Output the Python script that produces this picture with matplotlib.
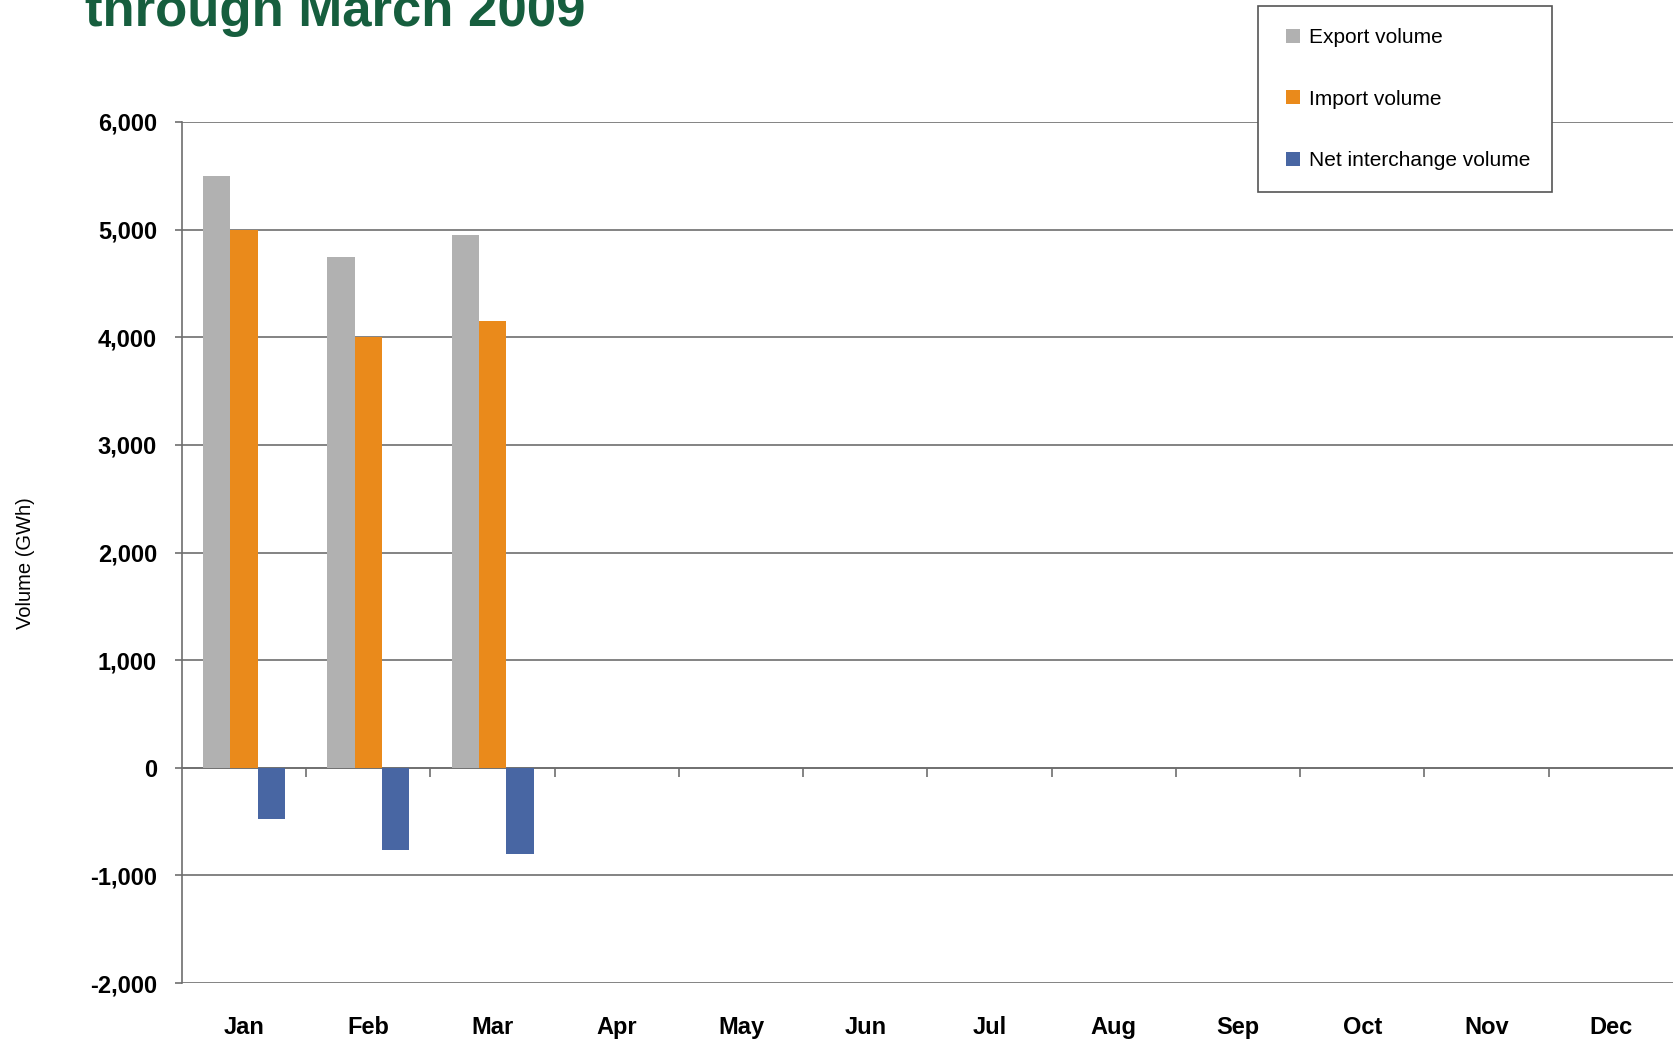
import numpy as np
import matplotlib
matplotlib.use('Agg')
import matplotlib.pyplot as plt
from matplotlib.lines import Line2D
from matplotlib.ticker import FuncFormatter

plt.rcParams['font.family'] = ['Liberation Sans', 'DejaVu Sans']

# data (GWh)
months = ['Jan', 'Feb', 'Mar', 'Apr', 'May', 'Jun', 'Jul', 'Aug', 'Sep', 'Oct', 'Nov', 'Dec']
export_vol = [5500, 4750, 4950]
import_vol = [5000, 4000, 4150]
net_vol = [-480, -760, -800]
series_names = ['Export volume', 'Import volume', 'Net interchange volume']
colors = ['#b1b1b1', '#ea8a1b', '#4866a3']

W, H = 1673, 1042
fig = plt.figure(figsize=(W / 100, H / 100), dpi=100)
fig.patch.set_facecolor('white')

left, right, top, bottom = 182 / W, 1.0, 1 - 122 / H, 1 - 983 / H
ax = fig.add_axes([left, bottom, right - left, top - bottom])

grid_col = '#6e6e6e'
bw = 0.22
x = np.arange(len(export_vol))
ax.bar(x - bw, export_vol, bw, color=colors[0], linewidth=0, zorder=3)
ax.bar(x, import_vol, bw, color=colors[1], linewidth=0, zorder=3)
ax.bar(x + bw, net_vol, bw, color=colors[2], linewidth=0, zorder=3)

ax.set_xlim(-0.5, len(months) - 0.5)
ax.set_ylim(-2000, 6000)
ax.set_yticks(np.arange(-2000, 6001, 1000))
ax.yaxis.set_major_formatter(FuncFormatter(lambda v, p: '{:,.0f}'.format(v)))
ax.grid(axis='y', color=grid_col, linewidth=1.2, zorder=1)
ax.set_axisbelow(True)

ax.set_xticks(np.arange(len(months)))
ax.set_xticklabels(months, fontsize=17, fontweight='bold')
ax.tick_params(axis='x', length=0, pad=24)
ax.tick_params(axis='y', length=5, width=1.2, color=grid_col, pad=13, labelsize=17)
for lab in ax.get_yticklabels():
    lab.set_fontweight('bold')

for s in ['top', 'right', 'bottom']:
    ax.spines[s].set_visible(False)
ax.spines['left'].set_color(grid_col)
ax.spines['left'].set_linewidth(1.2)

# zero line with category boundary ticks
sec = ax.secondary_xaxis((0 - (-2000)) / 8000)
sec.set_xticks(np.arange(len(months) - 1) + 0.5)
sec.tick_params(length=6.5, width=1.2, color=grid_col, labelbottom=False, labeltop=False)
sec.spines['bottom'].set_color(grid_col)
sec.spines['bottom'].set_linewidth(1.2)

ax.set_ylabel('Volume (GWh)', fontsize=14.5)
ax.yaxis.set_label_coords(-0.0985, 0.488)

handles = [Line2D([], [], marker='s', linestyle='none', markersize=10,
                  markerfacecolor=c, markeredgewidth=0) for c in colors]
leg = ax.legend(handles, series_names, loc='upper left',
                bbox_to_anchor=(1258 / W, 1 - 6 / H), bbox_transform=fig.transFigure,
                borderaxespad=0, fontsize=15, frameon=True, fancybox=False,
                edgecolor='#555555', framealpha=1, borderpad=1.05, labelspacing=2.05,
                handlelength=1.25, handletextpad=0.15)
leg.get_frame().set_linewidth(1.2)
leg.set_zorder(10)

fig.text(85 / W, 1 - 26 / H, 'through March 2009', ha='left', va='baseline',
         fontsize=38, fontweight='bold', color='#165e3e')

plt.savefig('out.png', dpi=100)
plt.close()
